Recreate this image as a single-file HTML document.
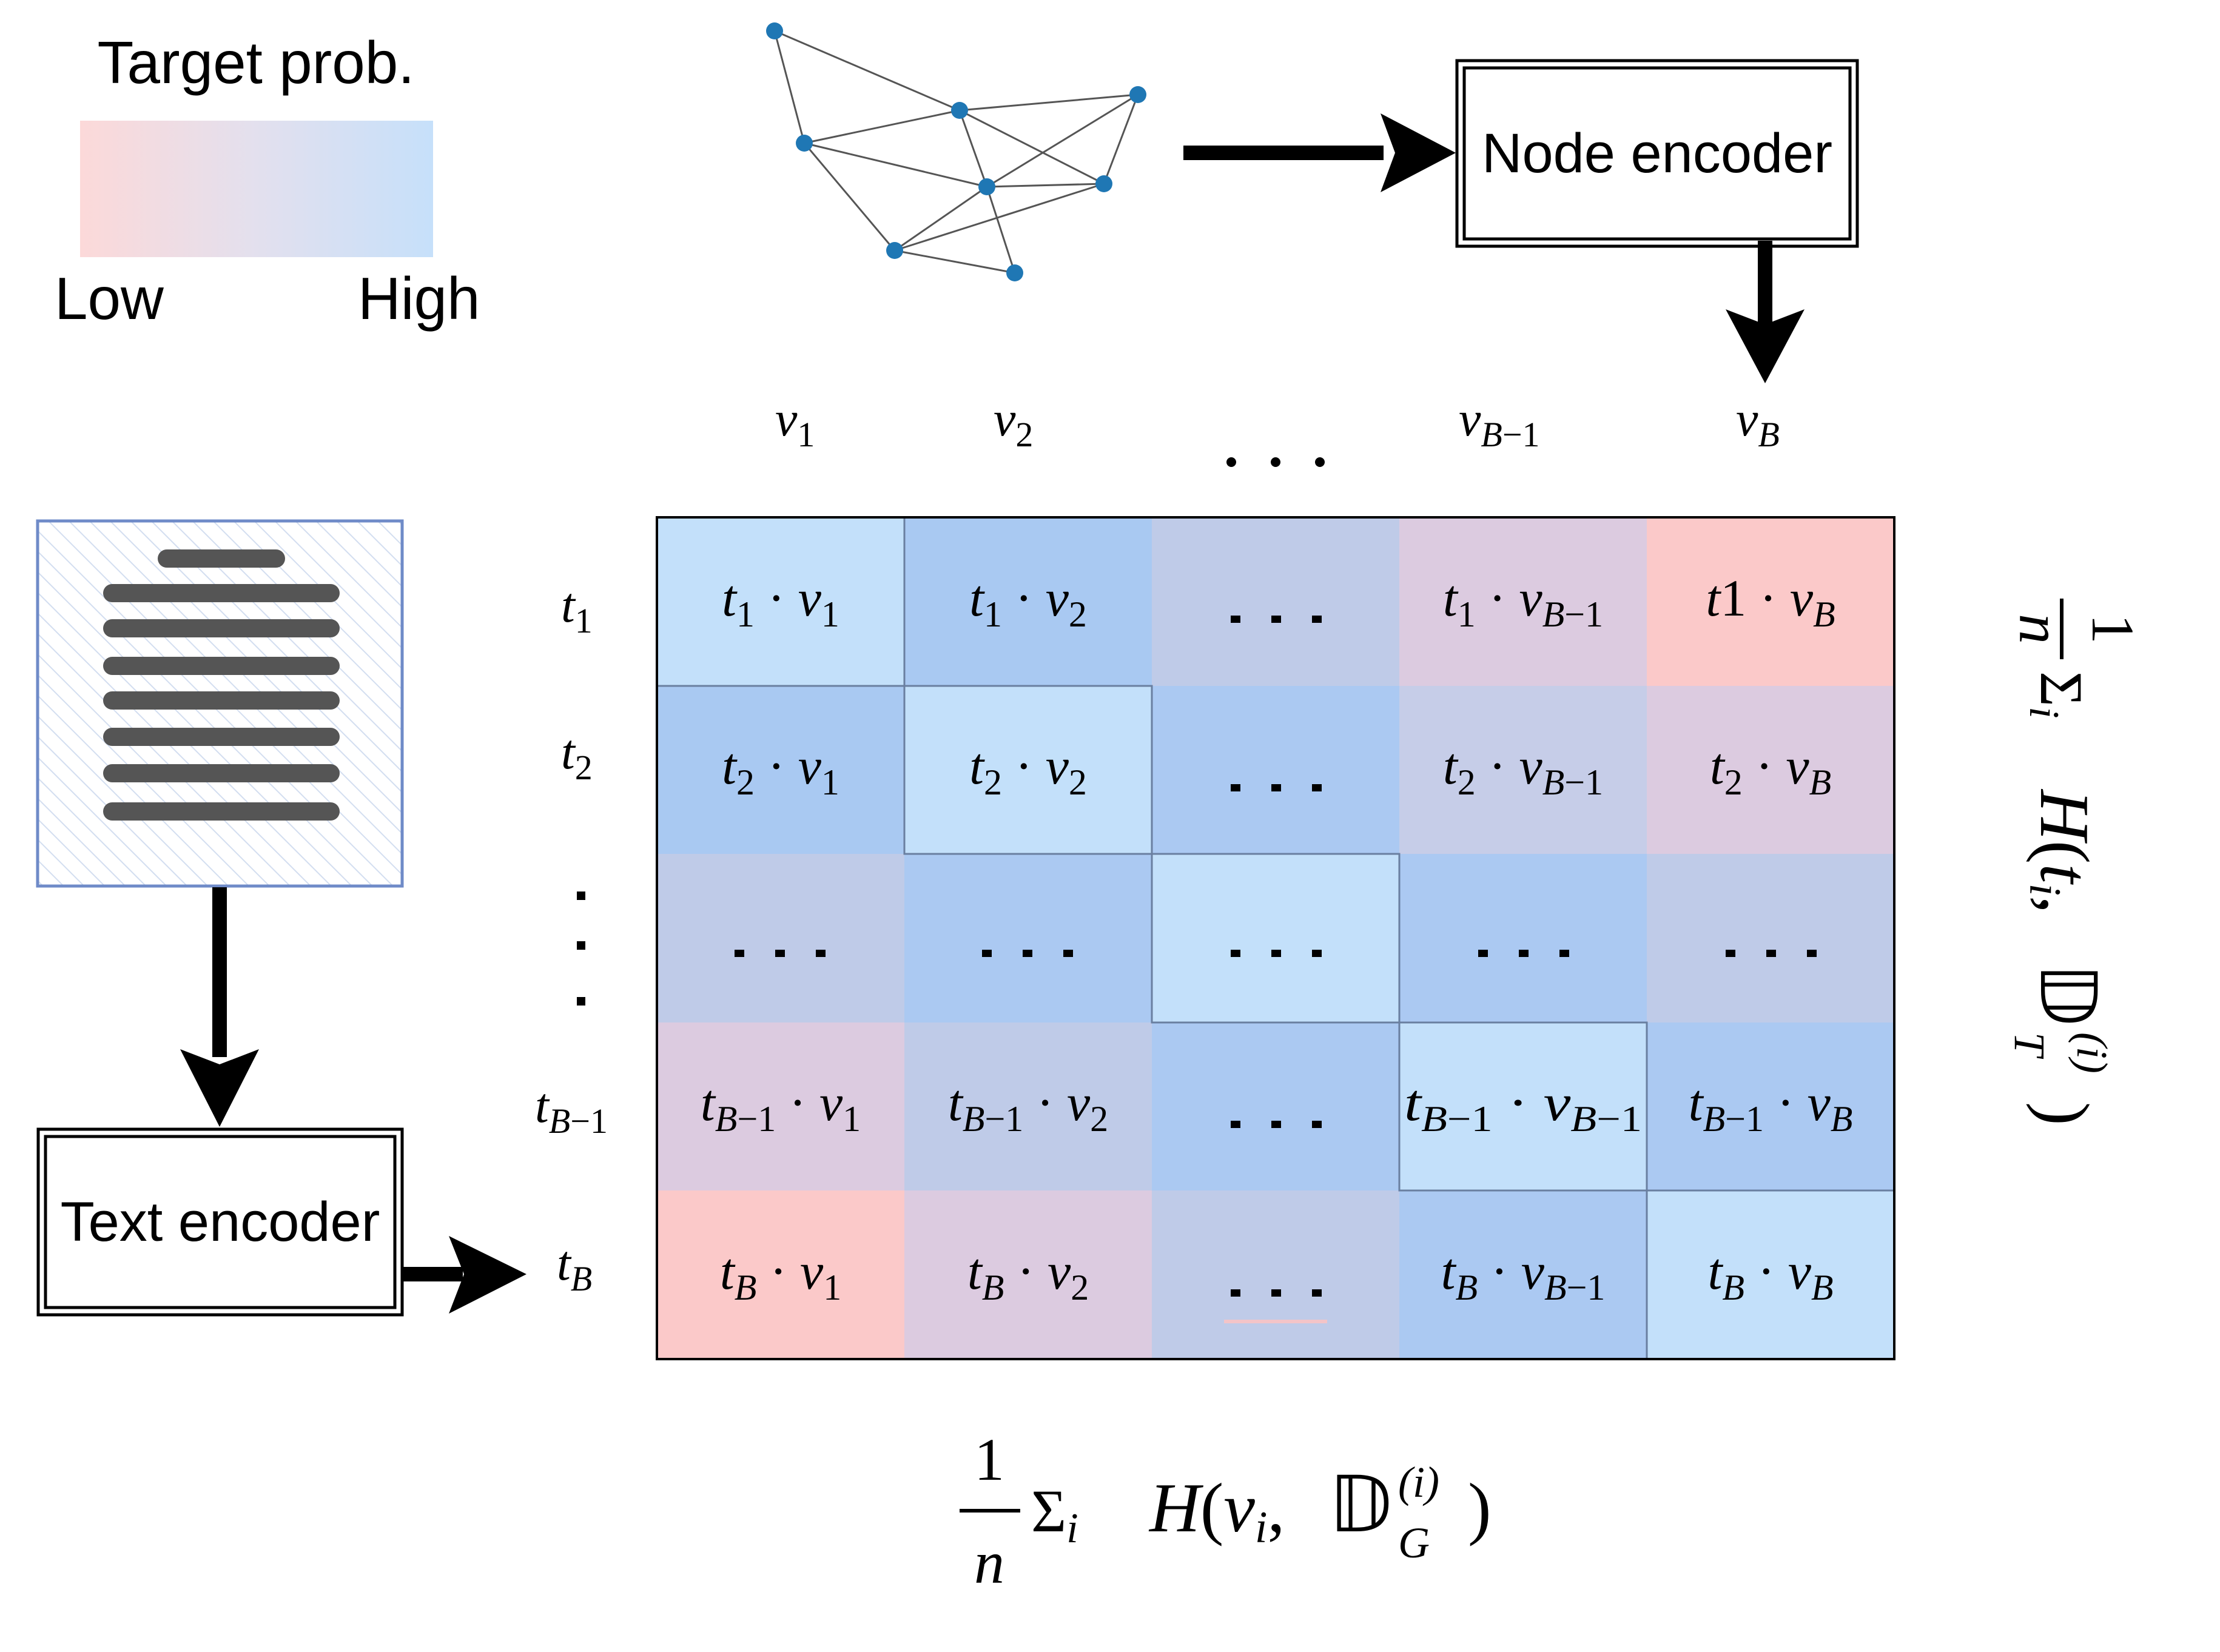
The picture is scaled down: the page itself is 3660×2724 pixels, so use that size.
<!DOCTYPE html>
<html><head><meta charset="utf-8"><style>
html,body{margin:0;padding:0;background:#fff}
svg{display:block}
.m{font-family:"Liberation Serif",serif;font-style:italic;fill:#000}
.s{font-family:"Liberation Sans",sans-serif;fill:#000}
.b{baseline-shift:-18px}
</style></head><body>
<svg width="3660" height="2724" viewBox="0 0 3660 2724" xmlns="http://www.w3.org/2000/svg">
<defs>
<linearGradient id="lg" x1="0" x2="1"><stop offset="0" stop-color="#fcd9d9"/><stop offset="0.5" stop-color="#e3e0ee"/><stop offset="1" stop-color="#c6e0fa"/></linearGradient>
<pattern id="hatch" width="24" height="24" patternUnits="userSpaceOnUse" patternTransform="rotate(-45)"><line x1="0" y1="0" x2="0" y2="24" stroke="#d3def0" stroke-width="4"/></pattern>
</defs>
<rect width="3660" height="2724" fill="#fff"/>
<text class="s" x="422" y="137" font-size="98" text-anchor="middle">Target prob.</text>
<rect x="132" y="199" width="582" height="225" fill="url(#lg)"/>
<text class="s" x="90" y="526" font-size="98">Low</text>
<text class="s" x="590" y="526" font-size="98">High</text>
<g stroke="#555" stroke-width="3">
<line x1="1277" y1="51" x2="1582" y2="182"/><line x1="1277" y1="51" x2="1326" y2="236"/>
<line x1="1326" y1="236" x2="1582" y2="182"/><line x1="1582" y1="182" x2="1876" y2="156"/>
<line x1="1582" y1="182" x2="1627" y2="308"/><line x1="1582" y1="182" x2="1820" y2="303"/>
<line x1="1876" y1="156" x2="1820" y2="303"/><line x1="1876" y1="156" x2="1627" y2="308"/>
<line x1="1326" y1="236" x2="1627" y2="308"/><line x1="1627" y1="308" x2="1820" y2="303"/>
<line x1="1475" y1="413" x2="1627" y2="308"/><line x1="1475" y1="413" x2="1820" y2="303"/>
<line x1="1475" y1="413" x2="1673" y2="450"/><line x1="1627" y1="308" x2="1673" y2="450"/>
<line x1="1326" y1="236" x2="1475" y2="413"/>
</g>
<g fill="#1f77b4">
<circle cx="1277" cy="51" r="14"/><circle cx="1582" cy="182" r="14"/><circle cx="1876" cy="156" r="14"/>
<circle cx="1326" cy="236" r="14"/><circle cx="1627" cy="308" r="14"/><circle cx="1820" cy="303" r="14"/>
<circle cx="1475" cy="413" r="14"/><circle cx="1673" cy="450" r="14"/>
</g>
<rect x="1951" y="240" width="330" height="24" fill="#000"/>
<polygon points="2276,187 2400,252 2276,317 2300,252" fill="#000"/>
<rect x="2402" y="100" width="660" height="306" fill="#fff" stroke="#000" stroke-width="5"/>
<rect x="2414" y="112" width="636" height="282" fill="none" stroke="#000" stroke-width="5"/>
<text class="s" x="2732" y="284" font-size="92" text-anchor="middle">Node encoder</text>
<rect x="2898" y="397" width="24" height="140" fill="#000"/>
<polygon points="2845,510 2910,632 2975,510 2910,535" fill="#000"/>
<g class="m" font-size="82">
<text x="1278" y="718">v<tspan class="b" font-style="normal" font-size="58">1</tspan></text>
<text x="1638" y="718">v<tspan class="b" font-style="normal" font-size="58">2</tspan></text>
<text x="2405" y="718">v<tspan class="b" font-size="58">B<tspan font-style="normal">−1</tspan></tspan></text>
<text x="2862" y="718">v<tspan class="b" font-size="58">B</tspan></text>
</g>
<g fill="#000"><circle cx="2030" cy="762" r="8"/><circle cx="2103" cy="762" r="8"/><circle cx="2176" cy="762" r="8"/></g>
<rect x="62" y="859" width="601" height="602" fill="url(#hatch)" stroke="#6f8bc8" stroke-width="5"/>
<g stroke="#555" stroke-width="30" stroke-linecap="round">
<line x1="275" y1="921" x2="455" y2="921"/>
<line x1="185" y1="978" x2="545" y2="978"/><line x1="185" y1="1036" x2="545" y2="1036"/>
<line x1="185" y1="1098" x2="545" y2="1098"/><line x1="185" y1="1155" x2="545" y2="1155"/>
<line x1="185" y1="1215" x2="545" y2="1215"/><line x1="185" y1="1275" x2="545" y2="1275"/>
<line x1="185" y1="1338" x2="545" y2="1338"/>
</g>
<rect x="350" y="1463" width="24" height="280" fill="#000"/>
<polygon points="297,1730 362,1858 427,1730 362,1755" fill="#000"/>
<rect x="63" y="1862" width="600" height="306" fill="#fff" stroke="#000" stroke-width="5"/>
<rect x="75" y="1874" width="576" height="282" fill="none" stroke="#000" stroke-width="5"/>
<text class="s" x="363" y="2046" font-size="92" text-anchor="middle">Text encoder</text>
<rect x="663" y="2089" width="100" height="24" fill="#000"/>
<polygon points="740,2038 868,2101 740,2166 765,2101" fill="#000"/>
<g class="m" font-size="82">
<text x="925" y="1025">t<tspan class="b" font-style="normal" font-size="58">1</tspan></text>
<text x="925" y="1267">t<tspan class="b" font-style="normal" font-size="58">2</tspan></text>
<text x="882" y="1850">t<tspan class="b" font-size="58">B<tspan font-style="normal">−1</tspan></tspan></text>
<text x="918" y="2110">t<tspan class="b" font-size="58">B</tspan></text>
</g>
<g fill="#000"><rect x="951" y="1470" width="14" height="14"/><rect x="951" y="1552" width="14" height="14"/><rect x="951" y="1644" width="14" height="14"/></g>
<g>
<rect x="1083" y="853" width="408" height="278" fill="#c3e0fa"/>
<rect x="1491" y="853" width="408" height="278" fill="#a9c9f2"/>
<rect x="1899" y="853" width="408" height="278" fill="#bfcbe8"/>
<rect x="2307" y="853" width="408" height="278" fill="#dccbe0"/>
<rect x="2715" y="853" width="408" height="278" fill="#fbc9c9"/>
<rect x="1083" y="1131" width="408" height="277" fill="#a9c9f2"/>
<rect x="1491" y="1131" width="408" height="277" fill="#c3e0fa"/>
<rect x="1899" y="1131" width="408" height="277" fill="#abc9f2"/>
<rect x="2307" y="1131" width="408" height="277" fill="#c6cde8"/>
<rect x="2715" y="1131" width="408" height="277" fill="#dccbe0"/>
<rect x="1083" y="1408" width="408" height="278" fill="#bfcbe8"/>
<rect x="1491" y="1408" width="408" height="278" fill="#abc9f2"/>
<rect x="1899" y="1408" width="408" height="278" fill="#c3e0fa"/>
<rect x="2307" y="1408" width="408" height="278" fill="#abc9f2"/>
<rect x="2715" y="1408" width="408" height="278" fill="#bfcbe8"/>
<rect x="1083" y="1686" width="408" height="277" fill="#dccbe0"/>
<rect x="1491" y="1686" width="408" height="277" fill="#bfcbe8"/>
<rect x="1899" y="1686" width="408" height="277" fill="#abc9f2"/>
<rect x="2307" y="1686" width="408" height="277" fill="#c3e0fa"/>
<rect x="2715" y="1686" width="408" height="277" fill="#abc9f2"/>
<rect x="1083" y="1963" width="408" height="278" fill="#fbc9c9"/>
<rect x="1491" y="1963" width="408" height="278" fill="#dccbe0"/>
<rect x="1899" y="1963" width="408" height="278" fill="#bfcbe8"/>
<rect x="2307" y="1963" width="408" height="278" fill="#abc9f2"/>
<rect x="2715" y="1963" width="408" height="278" fill="#c3e0fa"/>
</g>
<g fill="none" stroke="#6a7fa0" stroke-width="3">
<rect x="1083" y="853" width="408" height="278"/><rect x="1491" y="1131" width="408" height="277"/>
<rect x="1899" y="1408" width="408" height="278"/><rect x="2307" y="1686" width="408" height="277"/>
<rect x="2715" y="1963" width="408" height="278"/>
</g>
<rect x="1083" y="853" width="2040" height="1388" fill="none" stroke="#000" stroke-width="4"/>
<rect x="2018" y="2176" width="170" height="6" fill="#f3c4c8"/>
<g class="m" font-size="86" text-anchor="middle">
<text x="1287" y="1015">t<tspan class="b" font-style="normal" font-size="60">1</tspan> <tspan font-style="normal">·</tspan> v<tspan class="b" font-style="normal" font-size="60">1</tspan></text>
<text x="1695" y="1015">t<tspan class="b" font-style="normal" font-size="60">1</tspan> <tspan font-style="normal">·</tspan> v<tspan class="b" font-style="normal" font-size="60">2</tspan></text>
<text x="2511" y="1015">t<tspan class="b" font-style="normal" font-size="60">1</tspan> <tspan font-style="normal">·</tspan> v<tspan class="b" font-size="60">B<tspan font-style="normal">−1</tspan></tspan></text>
<text x="2919" y="1015">t<tspan font-style="normal">1</tspan> <tspan font-style="normal">·</tspan> v<tspan class="b" font-size="60">B</tspan></text>
<text x="1287" y="1292">t<tspan class="b" font-style="normal" font-size="60">2</tspan> <tspan font-style="normal">·</tspan> v<tspan class="b" font-style="normal" font-size="60">1</tspan></text>
<text x="1695" y="1292">t<tspan class="b" font-style="normal" font-size="60">2</tspan> <tspan font-style="normal">·</tspan> v<tspan class="b" font-style="normal" font-size="60">2</tspan></text>
<text x="2511" y="1292">t<tspan class="b" font-style="normal" font-size="60">2</tspan> <tspan font-style="normal">·</tspan> v<tspan class="b" font-size="60">B<tspan font-style="normal">−1</tspan></tspan></text>
<text x="2919" y="1292">t<tspan class="b" font-style="normal" font-size="60">2</tspan> <tspan font-style="normal">·</tspan> v<tspan class="b" font-size="60">B</tspan></text>
<text x="1287" y="1847">t<tspan class="b" font-size="60">B<tspan font-style="normal">−1</tspan></tspan> <tspan font-style="normal">·</tspan> v<tspan class="b" font-style="normal" font-size="60">1</tspan></text>
<text x="1695" y="1847">t<tspan class="b" font-size="60">B<tspan font-style="normal">−1</tspan></tspan> <tspan font-style="normal">·</tspan> v<tspan class="b" font-style="normal" font-size="60">2</tspan></text>
<text x="2511" y="1847" textLength="392" lengthAdjust="spacingAndGlyphs">t<tspan class="b" font-size="60">B<tspan font-style="normal">−1</tspan></tspan> <tspan font-style="normal">·</tspan> v<tspan class="b" font-size="60">B<tspan font-style="normal">−1</tspan></tspan></text>
<text x="2919" y="1847">t<tspan class="b" font-size="60">B<tspan font-style="normal">−1</tspan></tspan> <tspan font-style="normal">·</tspan> v<tspan class="b" font-size="60">B</tspan></text>
<text x="1287" y="2125">t<tspan class="b" font-size="60">B</tspan> <tspan font-style="normal">·</tspan> v<tspan class="b" font-style="normal" font-size="60">1</tspan></text>
<text x="1695" y="2125">t<tspan class="b" font-size="60">B</tspan> <tspan font-style="normal">·</tspan> v<tspan class="b" font-style="normal" font-size="60">2</tspan></text>
<text x="2511" y="2125">t<tspan class="b" font-size="60">B</tspan> <tspan font-style="normal">·</tspan> v<tspan class="b" font-size="60">B<tspan font-style="normal">−1</tspan></tspan></text>
<text x="2919" y="2125">t<tspan class="b" font-size="60">B</tspan> <tspan font-style="normal">·</tspan> v<tspan class="b" font-size="60">B</tspan></text>
</g>
<g fill="#000">
<rect x="2029" y="1015" width="16" height="12"/><rect x="2096" y="1015" width="16" height="12"/><rect x="2163" y="1015" width="16" height="12"/>
<rect x="2029" y="1293" width="16" height="12"/><rect x="2096" y="1293" width="16" height="12"/><rect x="2163" y="1293" width="16" height="12"/>
<rect x="1211" y="1566" width="16" height="12"/><rect x="1278" y="1566" width="16" height="12"/><rect x="1345" y="1566" width="16" height="12"/>
<rect x="1619" y="1566" width="16" height="12"/><rect x="1686" y="1566" width="16" height="12"/><rect x="1753" y="1566" width="16" height="12"/>
<rect x="2029" y="1566" width="16" height="12"/><rect x="2096" y="1566" width="16" height="12"/><rect x="2163" y="1566" width="16" height="12"/>
<rect x="2437" y="1566" width="16" height="12"/><rect x="2504" y="1566" width="16" height="12"/><rect x="2571" y="1566" width="16" height="12"/>
<rect x="2845" y="1566" width="16" height="12"/><rect x="2912" y="1566" width="16" height="12"/><rect x="2979" y="1566" width="16" height="12"/>
<rect x="2029" y="1848" width="16" height="12"/><rect x="2096" y="1848" width="16" height="12"/><rect x="2163" y="1848" width="16" height="12"/>
<rect x="2029" y="2126" width="16" height="12"/><rect x="2096" y="2126" width="16" height="12"/><rect x="2163" y="2126" width="16" height="12"/>
</g>
<g class="m">
<text x="1631" y="2440" font-size="100" font-style="normal" text-anchor="middle">1</text>
<rect x="1582" y="2488" width="100" height="6" fill="#000"/>
<text x="1631" y="2610" font-size="100" text-anchor="middle">n</text>
<text x="1700" y="2525" font-size="100" font-style="normal">Σ<tspan class="b" font-style="italic" font-size="70">i</tspan></text>
<text x="1895" y="2525" font-size="116">H<tspan font-style="normal">(</tspan>v<tspan class="b" font-size="74">i</tspan><tspan font-style="normal">,</tspan></text>
<text x="2190" y="2525" font-size="128" font-style="normal">𝔻</text>
<text x="2305" y="2468" font-size="72">(i)</text>
<text x="2305" y="2568" font-size="72">G</text>
<text x="2420" y="2525" font-size="116" font-style="normal">)</text>
</g>
<g transform="translate(3400,1447) rotate(90)" class="m">
<text x="-410" y="-50" font-size="100" font-style="normal" text-anchor="middle">1</text>
<rect x="-460" y="-2" width="100" height="6" fill="#000"/>
<text x="-410" y="70" font-size="100" text-anchor="middle">n</text>
<text x="-340" y="35" font-size="100" font-style="normal">Σ<tspan class="b" font-style="italic" font-size="70">i</tspan></text>
<text x="-145" y="35" font-size="116">H<tspan font-style="normal">(</tspan>t<tspan class="b" font-size="74">i</tspan><tspan font-style="normal">,</tspan></text>
<text x="140" y="35" font-size="128" font-style="normal">𝔻</text>
<text x="255" y="-25" font-size="72">(i)</text>
<text x="255" y="78" font-size="72">T</text>
<text x="370" y="35" font-size="116" font-style="normal">)</text>
</g>
</svg>
</body></html>
